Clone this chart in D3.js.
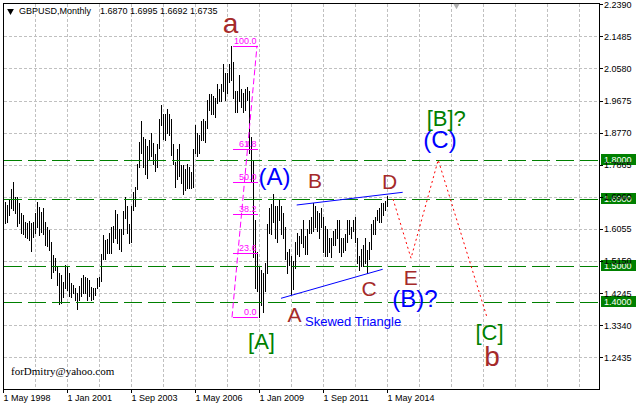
<!DOCTYPE html>
<html><head><meta charset="utf-8">
<script src="https://cdn.jsdelivr.net/npm/d3@7"></script>
<style>
html,body{margin:0;padding:0;background:#fff;}
svg{display:block;}
text{font-family:"Liberation Sans",Arial,sans-serif;}
</style></head><body>
<svg id="chart" width="636" height="406"></svg>
<script>
// ---------------- DATA ----------------
const symbolTitle = "GBPUSD,Monthly";
const lastBarOHLC = ["1.6870", "1.6995", "1.6692", "1.6735"];
const firstMonth = "1998-05";           // month index 0
// monthly highs, May 1998 .. May 2014
const highs = [
  1.6760,1.6820,1.6730,1.6890,1.7170,1.7390,1.6960,1.6950,                               // 1998 May-Dec
  1.6780,1.6510,1.6450,1.6260,1.6210,1.6290,1.6230,1.6260,1.6510,1.6820,1.6680,1.6540,   // 1999
  1.6640,1.6260,1.6120,1.6030,1.5700,1.5320,1.5230,1.5010,1.4820,1.4760,1.4570,1.5040,   // 2000
  1.5010,1.4800,1.4520,1.4470,1.4380,1.4260,1.4450,1.4660,1.4760,1.4710,1.4660,1.4620,   // 2001
  1.4430,1.4380,1.4380,1.4660,1.4710,1.5340,1.5890,1.5740,1.5760,1.5950,1.6120,1.6150,   // 2002
  1.6590,1.6480,1.6050,1.6050,1.6550,1.6950,1.6700,1.6200,1.6700,1.7100,1.7250,1.7880,   // 2003
  1.8500,1.9100,1.8650,1.8600,1.8400,1.8550,1.8750,1.8480,1.8180,1.8450,1.9150,1.9550,   // 2004
  1.9300,1.9300,1.9450,1.9300,1.9150,1.8450,1.7950,1.8300,1.8450,1.7850,1.7850,1.7750,   // 2005
  1.7900,1.7800,1.7650,1.8300,1.9000,1.8750,1.8700,1.9100,1.9150,1.9100,1.9700,1.9850,   // 2006
  1.9850,1.9800,1.9750,2.0150,2.0000,2.0150,2.0700,2.0450,2.0450,2.0700,2.1220,2.0750,   // 2007
  1.9950,1.9950,2.0400,2.0000,1.9900,2.0000,2.0050,1.9950,1.8650,1.8000,1.6300,1.5400,   // 2008
  1.5000,1.4900,1.4800,1.5100,1.6200,1.6650,1.6750,1.7050,1.6700,1.6700,1.6900,1.6700,   // 2009
  1.6500,1.6100,1.5400,1.5500,1.5300,1.5150,1.5700,1.5950,1.5850,1.6050,1.6300,1.5850,   // 2010
  1.6050,1.6300,1.6400,1.6790,1.6700,1.6550,1.6500,1.6650,1.6400,1.6150,1.6050,1.5800,   // 2011
  1.5800,1.6000,1.6050,1.6300,1.6300,1.5800,1.5800,1.5900,1.6300,1.6300,1.6100,1.6300,   // 2012
  1.6400,1.5800,1.5300,1.5500,1.5600,1.5800,1.5450,1.5700,1.6200,1.6300,1.6400,1.6600,   // 2013
  1.6650,1.6800,1.6800,1.6850,1.6995                                                     // 2014 Jan-May
];
// monthly lows, May 1998 .. May 2014
const lows = [
  1.6150,1.6230,1.6260,1.6450,1.6640,1.6590,1.6500,1.6140,
  1.6210,1.5930,1.5910,1.5840,1.5790,1.5740,1.5440,1.5840,1.5930,1.6120,1.5880,1.5980,
  1.5910,1.5600,1.5570,1.5460,1.4660,1.4850,1.4900,1.4470,1.3940,1.3960,1.4130,1.4380,
  1.4330,1.4150,1.4130,1.4240,1.4050,1.3790,1.4050,1.4150,1.4240,1.4240,1.4050,1.4150,
  1.4050,1.4080,1.4190,1.4380,1.4450,1.4580,1.5200,1.5200,1.5390,1.5390,1.5390,1.5700,
  1.5800,1.5650,1.5500,1.5440,1.5910,1.6350,1.5950,1.5650,1.5700,1.6580,1.6700,1.7170,
  1.7800,1.8200,1.7800,1.7600,1.7480,1.8000,1.8100,1.7900,1.7700,1.7800,1.8350,1.9000,
  1.8580,1.8550,1.8750,1.8700,1.8150,1.7900,1.7250,1.7450,1.7550,1.7350,1.7050,1.7150,
  1.7200,1.7200,1.7200,1.7250,1.8200,1.8100,1.8200,1.8550,1.8550,1.8500,1.8900,1.9400,
  1.9300,1.9300,1.9200,1.9600,1.9650,1.9650,1.9950,1.9700,1.9900,2.0200,2.0250,1.9750,
  1.9350,1.9350,1.9650,1.9500,1.9350,1.9400,1.9700,1.8200,1.7400,1.5250,1.4400,1.4300,
  1.3560,1.3900,1.3700,1.4300,1.4800,1.5950,1.5900,1.6250,1.5800,1.5700,1.6300,1.5900,
  1.5800,1.5200,1.4800,1.5050,1.4230,1.4350,1.4950,1.5350,1.5300,1.5650,1.5550,1.5350,
  1.5350,1.5950,1.5950,1.6000,1.6100,1.6000,1.5800,1.6100,1.5400,1.5300,1.5300,1.5400,
  1.5250,1.5600,1.5600,1.5800,1.5400,1.5300,1.5400,1.5450,1.5700,1.5900,1.5800,1.6000,
  1.5700,1.5100,1.4900,1.5000,1.5000,1.5100,1.4810,1.5200,1.5500,1.5900,1.5900,1.6300,
  1.6250,1.6250,1.6450,1.6600,1.6692
];
const xTickLabels = ["1 May 1998","1 Jan 2001","1 Sep 2003","1 May 2006","1 Jan 2009","1 Sep 2011","1 May 2014"];
const yTickLabels = ["2.2390","2.1485","2.0580","1.9675","1.8770","1.7865","1.6960","1.6055","1.5150","1.4245","1.3340","1.2435"];
const levelLines = [1.8000, 1.6900, 1.5000, 1.4000];

// Fibonacci retracement anchors (month index, price) and levels
const fibMonths = [114.5, 127];
const fibPrices = [1.3563, 2.1222];
const fibLevels = [0, 23.6, 38.2, 50.0, 61.8, 100.0];

// skewed triangle boundaries
const triUpperMonths = [146.85, 199.85], triUpperPrices = [1.6730, 1.7088];
const triLowerMonths = [139, 189.85],    triLowerPrices = [1.4099, 1.4917];

// projected path (red dotted)
const projMonths = [195, 204, 217.6, 241.9];
const projPrices = [1.6900, 1.5230, 1.8000, 1.3580];

// wave labels (anchor: month index, baseline price)
const labelTexts  = ["a", "(A)", "B", "D", "A", "C", "E", "(B)?", "[B]?", "(C)", "[C]", "b", "[A]", "Skewed Triangle"];
const labelMonths = [113.75, 135.75, 156, 193.25, 145.75, 183, 203.85, 206, 221.65, 218.5, 243.25, 244.5, 129.25, 151];
const labelPrices = [2.1581, 1.7308, 1.7209, 1.7195, 1.3417, 1.4150, 1.4474, 1.3862, 1.8944, 1.8338, 1.2923, 1.2190, 1.2658, 1.3309];
const watermark = "forDmitry@yahoo.com";

// ---------------- STYLES ----------------
const BROWN = "#a52a2a", BLUE = "#0000ff", GREEN = "#008000", MAGENTA = "#ff00ff";
const labelStyle = {
  "a": [BROWN, 28], "b": [BROWN, 28],
  "B": [BROWN, 21], "D": [BROWN, 21], "A": [BROWN, 21], "C": [BROWN, 21], "E": [BROWN, 21],
  "(A)": [BLUE, 24], "(B)?": [BLUE, 24], "(C)": [BLUE, 24],
  "[B]?": [GREEN, 22], "[C]": [GREEN, 22], "[A]": [GREEN, 22],
  "Skewed Triangle": [BLUE, 13]
};

// ---------------- CHART ----------------
const svg = d3.select("#chart");
const L = 3, R = 599, T = 3, B = 389;
const x = d3.scaleLinear().domain([0, 298]).range([3, 599]);
const y = d3.scaleLinear().domain([1.1530, 2.2390]).range([389.4, 4.3]);
const cp = v => Math.round(v) + 0.5;

svg.append("rect").attr("width", 636).attr("height", 406).attr("fill", "#fff");

const [fy, fm] = firstMonth.split("-").map(Number);
const monthNames = ["Jan","Feb","Mar","Apr","May","Jun","Jul","Aug","Sep","Oct","Nov","Dec"];
const tickIdx = xTickLabels.map(s => {
  const parts = s.split(" ");
  return (+parts[2] - fy) * 12 + monthNames.indexOf(parts[1]) + 1 - fm;
});
const yTickVals = yTickLabels.map(Number);

// grid
const grid = svg.append("g").attr("stroke", "#c0c0c0").attr("stroke-dasharray", "3,2")
  .attr("shape-rendering", "crispEdges");
const gridStep = tickIdx[1] / 2;
d3.range(gridStep, 298, gridStep).forEach(m => {
  grid.append("line").attr("x1", cp(x(m))).attr("x2", cp(x(m))).attr("y1", T + 1).attr("y2", B);
});
yTickVals.slice(1).forEach(v => {
  grid.append("line").attr("x1", L + 1).attr("x2", R).attr("y1", cp(y(v))).attr("y2", cp(y(v)));
});

// bars
const idx = d3.range(highs.length);
svg.append("g").attr("stroke", "#000").attr("shape-rendering", "crispEdges")
  .selectAll("line").data(idx).join("line")
  .attr("x1", i => cp(x(i))).attr("x2", i => cp(x(i)))
  .attr("y1", i => Math.round(y(highs[i]))).attr("y2", i => Math.round(y(lows[i])) + 1);

// level lines
svg.append("g").attr("stroke", GREEN).attr("stroke-dasharray", "18,6").attr("shape-rendering", "crispEdges")
  .selectAll("line").data(levelLines).join("line")
  .attr("x1", L + 1).attr("x2", R).attr("y1", d => cp(y(d))).attr("y2", d => cp(y(d)));

// Fibonacci
const fib = svg.append("g");
const fx1 = cp(x(fibMonths[0])), fx2 = cp(x(fibMonths[1]));
fib.append("line").attr("x1", x(fibMonths[0])).attr("y1", y(fibPrices[0]))
  .attr("x2", x(fibMonths[1])).attr("y2", y(fibPrices[1]))
  .attr("stroke", MAGENTA).attr("stroke-dasharray", "6,3");
fibLevels.forEach(lv => {
  const p = fibPrices[0] + (fibPrices[1] - fibPrices[0]) * lv / 100;
  fib.append("line").attr("x1", fx1).attr("x2", fx2).attr("y1", cp(y(p))).attr("y2", cp(y(p)))
    .attr("stroke", MAGENTA).attr("shape-rendering", "crispEdges");
  fib.append("text").attr("x", fx2 - 1).attr("y", cp(y(p)) - 3)
    .attr("text-anchor", "end").attr("font-size", 9).attr("fill", MAGENTA)
    .text(d3.format(".1f")(lv));
});

// triangle lines
[[triUpperMonths, triUpperPrices], [triLowerMonths, triLowerPrices]].forEach(([ms, ps]) => {
  svg.append("line").attr("x1", x(ms[0])).attr("y1", y(ps[0])).attr("x2", x(ms[1])).attr("y2", y(ps[1]))
    .attr("stroke", BLUE).attr("stroke-width", 1);
});

// projection
svg.append("path")
  .attr("d", d3.line().x(i => x(projMonths[i])).y(i => y(projPrices[i]))(d3.range(projMonths.length)))
  .attr("fill", "none").attr("stroke", "#ff0000").attr("stroke-dasharray", "2,3");

// wave labels
labelTexts.forEach((t, i) => {
  const [col, size] = labelStyle[t];
  svg.append("text").attr("x", x(labelMonths[i])).attr("y", y(labelPrices[i]))
    .attr("text-anchor", t === "Skewed Triangle" ? "start" : "middle")
    .attr("font-size", size).attr("fill", col).text(t);
});

// watermark
svg.append("text").attr("x", 11).attr("y", 375).attr("font-size", 11)
  .style("font-family", '"Liberation Serif","Times New Roman",serif').attr("fill", "#000").text(watermark);

// frame
svg.append("rect").attr("x", L + 0.5).attr("y", T + 0.5).attr("width", R - L).attr("height", B - T)
  .attr("fill", "none").attr("stroke", "#000").attr("shape-rendering", "crispEdges");

// level boxes on the price axis
levelLines.forEach(v => {
  const yy = Math.round(y(v));
  svg.append("rect").attr("x", 601).attr("y", yy - 6).attr("width", 35).attr("height", 11).attr("fill", GREEN);
  svg.append("text").attr("x", 604).attr("y", yy + 3).attr("font-size", 9).attr("fill", "#fff").text(d3.format(".4f")(v));
});

// right axis
const yAxis = d3.axisRight(y).tickValues(yTickVals).tickFormat((d, i) => yTickLabels[i]).tickSize(4).tickPadding(1);
const gy = svg.append("g").attr("transform", `translate(${R},0)`).call(yAxis);
gy.select(".domain").remove();
gy.selectAll("line").attr("shape-rendering", "crispEdges");
gy.selectAll("text").attr("font-size", 9).attr("fill", "#000")
  .style("font-family", '"Liberation Sans",Arial,sans-serif');

// bottom axis
const xAxis = d3.axisBottom(x).tickValues(tickIdx).tickFormat((d, i) => xTickLabels[i]).tickSize(4).tickPadding(2);
const gx = svg.append("g").attr("transform", `translate(0,${B})`).call(xAxis);
gx.select(".domain").remove();
gx.selectAll("line").attr("shape-rendering", "crispEdges");
gx.selectAll("text").attr("font-size", 9).attr("fill", "#000").attr("text-anchor", "start").attr("x", 0)
  .style("font-family", '"Liberation Sans",Arial,sans-serif');

// header
svg.append("path").attr("d", d3.symbol(d3.symbolTriangle, 20)()).attr("fill", "#000")
  .attr("transform", "translate(10.5,11) rotate(180)");
svg.append("text").attr("x", 19).attr("y", 14).attr("font-size", 9).attr("fill", "#000").text(symbolTitle);
svg.append("text").attr("x", 100).attr("y", 14).attr("font-size", 9).attr("fill", "#000").text(lastBarOHLC.join(" "));

// chart shift marker
svg.append("path").attr("d", d3.symbol(d3.symbolTriangle, 18)()).attr("fill", "#b0b0b0")
  .attr("transform", `translate(${x(227) - 0.5},5.5) rotate(180)`);
</script>
</body></html>
